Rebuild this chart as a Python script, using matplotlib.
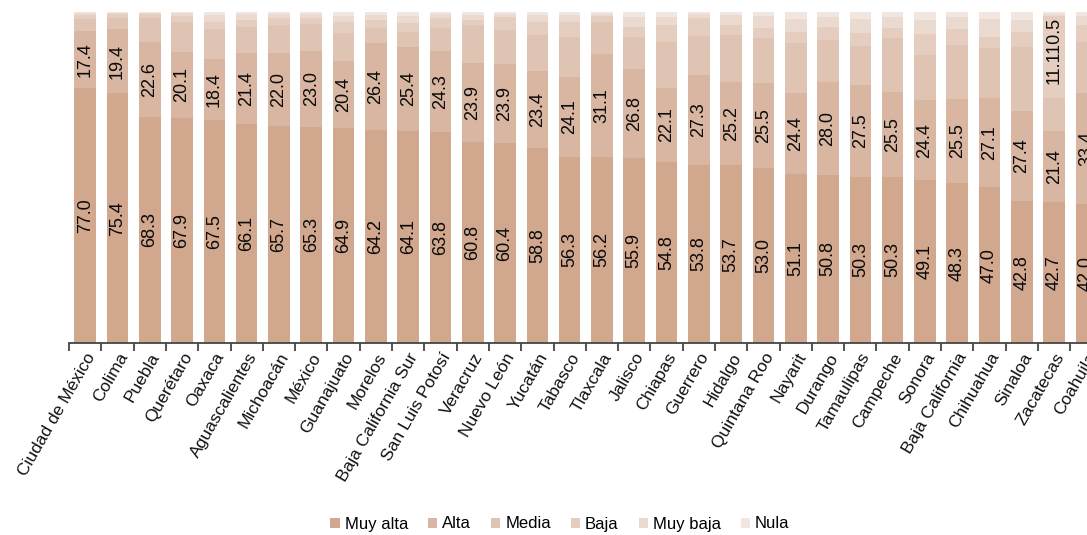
import matplotlib
matplotlib.use("Agg")
import matplotlib.pyplot as plt
import numpy as np

plt.rcParams['font.family'] = ['Liberation Sans', 'DejaVu Sans']

states = ["Ciudad de México", "Colima", "Puebla", "Querétaro", "Oaxaca", "Aguascalientes",
          "Michoacán", "México", "Guanajuato", "Morelos", "Baja California Sur",
          "San Luis Potosí", "Veracruz", "Nuevo León", "Yucatán", "Tabasco", "Tlaxcala",
          "Jalisco", "Chiapas", "Guerrero", "Hidalgo", "Quintana Roo", "Nayarit", "Durango",
          "Tamaulipas", "Campeche", "Sonora", "Baja California", "Chihuahua", "Sinaloa",
          "Zacatecas", "Coahuila"]

muy_alta = [77.0, 75.4, 68.3, 67.9, 67.5, 66.1, 65.7, 65.3, 64.9, 64.2, 64.1, 63.8, 60.8, 60.4,
            58.8, 56.3, 56.2, 55.9, 54.8, 53.8, 53.7, 53.0, 51.1, 50.8, 50.3, 50.3, 49.1, 48.3,
            47.0, 42.8, 42.7, 42.0]
alta = [17.4, 19.4, 22.6, 20.1, 18.4, 21.4, 22.0, 23.0, 20.4, 26.4, 25.4, 24.3, 23.9, 23.9,
        23.4, 24.1, 31.1, 26.8, 22.1, 27.3, 25.2, 25.5, 24.4, 28.0, 27.5, 25.5, 24.4, 25.5,
        27.1, 27.4, 21.4, 33.4]
media = [3.5, 3.3, 7.2, 9.0, 8.9, 8.1, 8.4, 8.0, 8.3, 4.5, 4.5, 7.0, 11.4, 10.3,
         10.9, 12.1, 9.8, 9.8, 14.1, 11.5, 14.1, 13.6, 15.0, 12.7, 12.0, 16.3, 13.5, 16.2,
         14.9, 19.3, 9.8, 15.6]
baja = [1.2, 1.2, 1.2, 1.8, 2.3, 2.0, 2.2, 2.0, 3.4, 2.4, 2.7, 3.0, 1.5, 4.0,
        4.0, 4.5, 1.7, 3.0, 5.0, 5.6, 3.0, 3.0, 3.5, 4.0, 4.0, 3.0, 6.5, 5.0,
        3.5, 4.5, 25.0, 5.0]
muy_baja = [0.6, 0.4, 0.5, 0.9, 2.0, 1.8, 1.2, 1.2, 1.7, 1.6, 2.2, 1.2, 1.6, 0.9,
            1.9, 2.0, 0.7, 3.0, 2.5, 1.2, 3.0, 3.7, 4.0, 3.0, 4.0, 3.3, 4.2, 3.5,
            5.3, 3.5, 0.6, 2.7]
nula = [0.3, 0.3, 0.2, 0.3, 0.9, 0.6, 0.5, 0.5, 1.3, 0.9, 1.1, 0.7, 0.8, 0.5,
        1.0, 1.0, 0.5, 1.5, 1.5, 0.6, 1.0, 1.2, 2.0, 1.5, 2.2, 1.6, 2.3, 1.5,
        2.2, 2.5, 0.5, 1.3]

series_names = ["Muy alta", "Alta", "Media", "Baja", "Muy baja", "Nula"]
series_values = [muy_alta, alta, media, baja, muy_baja, nula]
colors = ["#D1A78E", "#D9B6A1", "#E0C4B3", "#E5CEC0", "#EBDAD0", "#F2E7E0"]
labeled_series = [0, 1]
# overlapping labels shown at the top of the Zacatecas bar in the source
extra_label_state = "Zacatecas"
extra_label_text = "11.110.5"

W, H = 1087, 535
fig = plt.figure(figsize=(W / 100, H / 100), dpi=100)
n = len(states)
cat_w = 32.3
left_px, bottom_px, top_px = 69, 343, 12
ax = fig.add_axes([left_px / W, (H - bottom_px) / H, n * cat_w / W, (bottom_px - top_px) / H])

x = np.arange(n)
bottoms = np.zeros(n)
for i, (name, vals, c) in enumerate(zip(series_names, series_values, colors)):
    vals = np.array(vals)
    ax.bar(x, vals, bottom=bottoms, width=0.67, color=c, label=name, linewidth=0)
    if i in labeled_series:
        for xi, b, v in zip(x, bottoms, vals):
            ax.text(xi, b + v / 2, f"{v:.1f}", rotation=90, ha="center", va="center",
                    fontsize=13, color="#0a0a0a")
    bottoms = bottoms + vals

zi = states.index(extra_label_state)
top_start = muy_alta[zi] + alta[zi] + media[zi]
ax.text(zi, (top_start + 100) / 2 + 1.5, extra_label_text, rotation=90, ha="center",
        va="center", fontsize=13, color="#0a0a0a")

ax.set_xlim(-0.5, n - 0.5)
ax.set_ylim(0, 100)
for s in ["left", "right", "top"]:
    ax.spines[s].set_visible(False)
ax.spines["bottom"].set_color("#444444")
ax.spines["bottom"].set_linewidth(1.3)
ax.set_yticks([])
ax.set_xticks(np.arange(n + 1) - 0.5)
ax.set_xticklabels([])
ax.tick_params(axis="x", length=6, width=1.3, color="#444444", direction="out")
for xi, s in zip(x, states):
    ax.text(xi + 0.2, -3.3, s, rotation=60, rotation_mode="anchor", ha="right", va="center",
            fontsize=12.5, color="#111111", transform=ax.transData)

handles, labels = ax.get_legend_handles_labels()
fig.legend(handles, labels, loc="center", bbox_to_anchor=(560 / W, 1 - 524 / H), ncol=6,
           frameon=False, fontsize=12, handlelength=0.55, handleheight=0.55,
           handletextpad=0.3, columnspacing=1.2)

fig.savefig("out.png", dpi=100)
